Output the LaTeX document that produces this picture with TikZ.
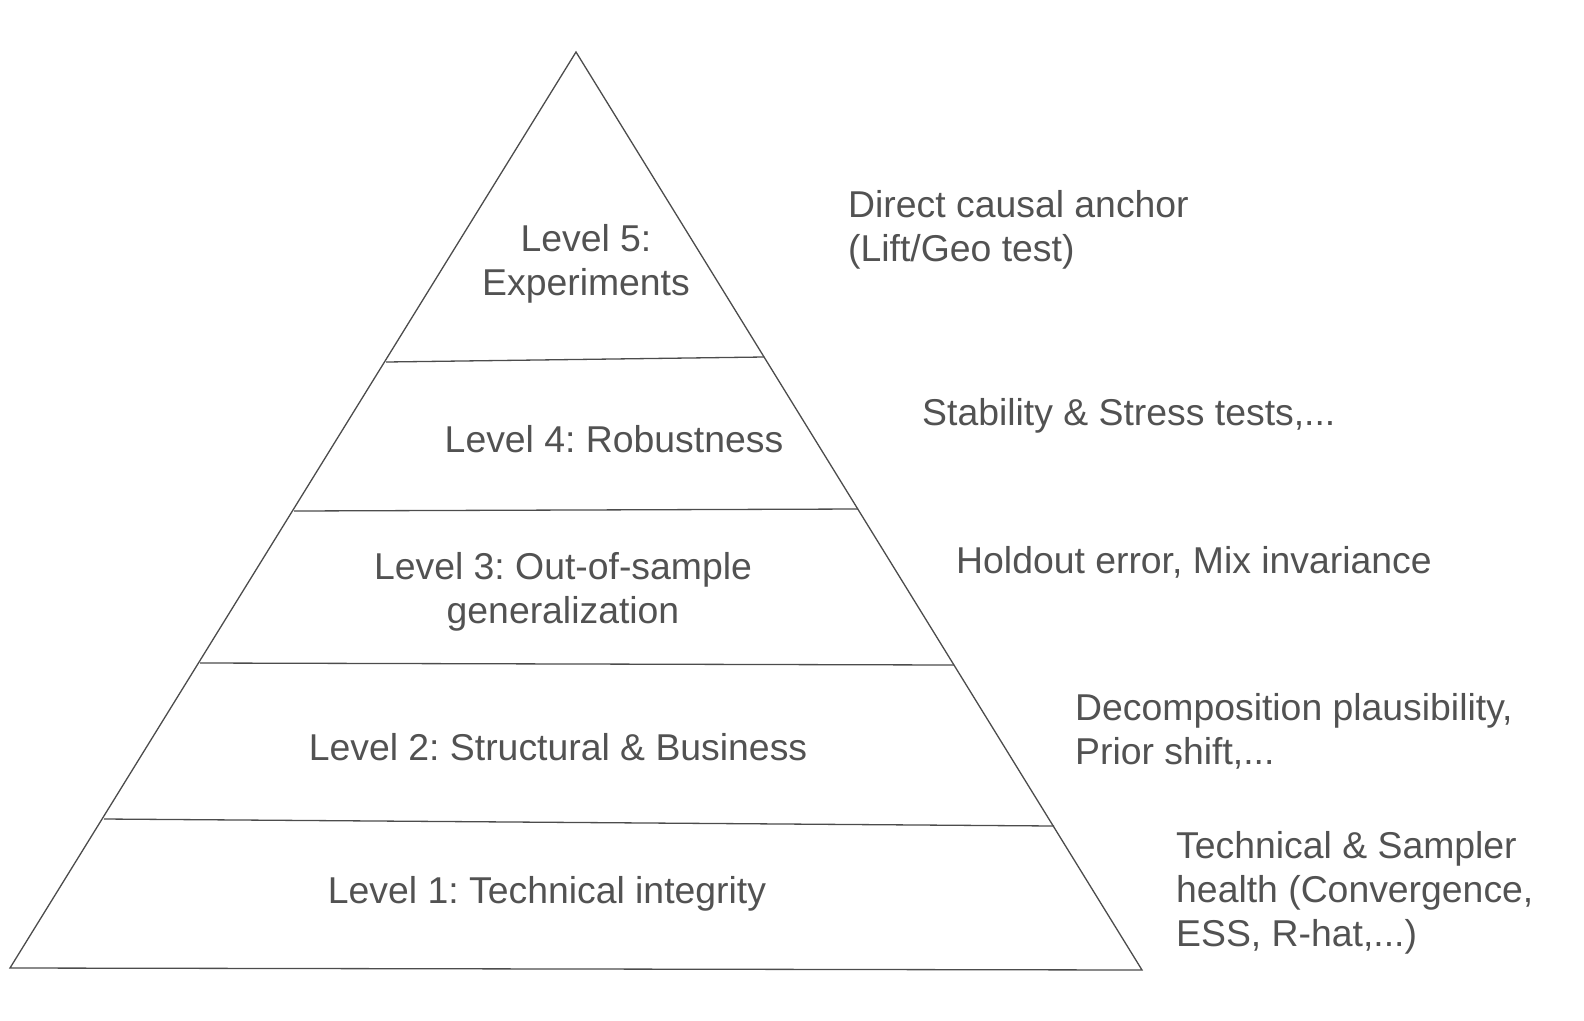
\documentclass[tikz,border=0pt]{standalone}
\usepackage{fontspec}
\setmainfont{Liberation Sans}
\frenchspacing
\begin{document}
\frenchspacing
\begin{tikzpicture}[x=1bp,y=-1bp,
  ln/.style={draw=black!70,line width=1.3bp},
  lbl/.style={text=black!68,font=\frenchspacing\fontsize{37.5}{44}\selectfont,align=center,inner sep=0},
  note/.style={text=black!68,font=\frenchspacing\fontsize{37.5}{44}\selectfont,align=left,inner sep=0,anchor=west}]
\useasboundingbox (0,0) rectangle (1584,1020);
\coordinate (A) at (576,52);
\coordinate (L) at (10,968);
\coordinate (R) at (1142,970);
\draw[ln] (A) -- (L) -- (R) -- cycle;
\coordinate (a1) at (386,362); \coordinate (b1) at (764,357);
\coordinate (a2) at (294,511); \coordinate (b2) at (858,509);
\coordinate (a3) at (200,663); \coordinate (b3) at (954,665);
\coordinate (a4) at (104,819); \coordinate (b4) at (1054,826);
\draw[ln] (a1)--(b1); \draw[ln] (a2)--(b2); \draw[ln] (a3)--(b3); \draw[ln] (a4)--(b4);
\node[lbl] (l5) at (586,264) {Level 5:\\Experiments};
\node[lbl] (l4) at (614,439) {Level 4: Robustness};
\node[lbl] (l3) at (563,592) {Level 3: Out-of-sample\\generalization};
\node[lbl] (l2) at (558,747) {Level 2: Structural \& Business};
\node[lbl] (l1) at (547,894) {Level 1: Technical integrity};
\node[note] (n5) at (848,230) {Direct causal anchor\\(Lift/Geo test)};
\node[note] (n4) at (922,416) {Stability \& Stress tests,...};
\node[note] (n3) at (956,562) {Holdout error, Mix invariance};
\node[note] (n2) at (1075,731) {Decomposition plausibility,\\Prior shift,...};
\node[note] (n1) at (1176,893) {Technical \& Sampler\\health (Convergence,\\ESS, R-hat,...)};
\end{tikzpicture}
\end{document}
